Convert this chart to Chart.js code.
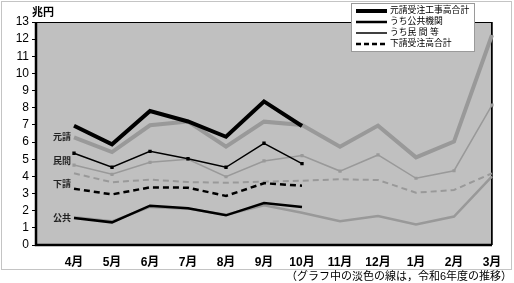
<!DOCTYPE html>
<html>
<head>
<meta charset="utf-8">
<script src="https://cdn.jsdelivr.net/npm/chart.js@4"></script>
<style>
  body { margin: 0; background: #fff; }
  canvas { display: block; }
</style>
</head>
<body>
<canvas id="chart" width="514" height="283"></canvas>
<script>
const months = ["4月", "5月", "6月", "7月", "8月", "9月", "10月", "11月", "12月", "1月", "2月", "3月"];

// 令和7年度 (黒線, 10月まで)
const genCur = [6.95, 5.87, 7.81, 7.2, 6.31, 8.37, 6.94];
const pubCur = [1.57, 1.32, 2.29, 2.14, 1.73, 2.45, 2.22];
const priCur = [5.35, 4.53, 5.46, 5.03, 4.53, 5.93, 4.74];
const subCur = [3.28, 2.95, 3.36, 3.34, 2.86, 3.6, 3.46];

// 令和6年度 (淡色の線)
const genPrev = [6.28, 5.42, 6.98, 7.2, 5.73, 7.19, 7.0, 5.73, 6.96, 5.11, 6.03, 12.24];
const pubPrev = [1.62, 1.38, 2.22, 2.12, 1.76, 2.31, 1.88, 1.38, 1.69, 1.2, 1.66, 4.0];
const priPrev = [4.66, 4.12, 4.82, 5.0, 3.98, 4.9, 5.21, 4.31, 5.25, 3.89, 4.33, 8.16];
const subPrev = [4.18, 3.66, 3.81, 3.67, 3.63, 3.69, 3.75, 3.83, 3.79, 3.05, 3.21, 4.18];

const legendNames = ["元請受注工事高合計", "うち公共機関", "うち民 間 等", "下請受注高合計"];
const sideNames = ["元請", "民間", "下請", "公共"];
const sideLevels = [6.25, 4.85, 3.55, 1.55];
const note = "（グラフ中の淡色の線は，令和6年度の推移）";

const GRAY = "#999999";
const pad = arr => [null].concat(arr);

const styles = [
  { width: 4, dash: [] },
  { width: 2.5, dash: [] },
  { width: 1.5, dash: [] },
  { width: 2.5, dash: [6, 4] }
];

function line(data, color, st, pr) {
  return {
    data: pad(data),
    borderColor: color,
    backgroundColor: color,
    borderWidth: st.width,
    borderDash: st.dash,
    pointRadius: pr || 0,
    pointStyle: "rect",
    tension: 0,
    spanGaps: false
  };
}

const jpFont = "'Liberation Sans', 'Noto Sans CJK JP', sans-serif";

const decor = {
  id: "decor",
  beforeDraw(c) {
    const ctx = c.ctx, a = c.chartArea;
    ctx.save();
    ctx.fillStyle = "#fff";
    ctx.fillRect(0, 0, c.width, c.height);
    ctx.strokeStyle = "#c4c4c4";
    ctx.lineWidth = 1;
    ctx.strokeRect(1.5, 1.5, 510, 268);
    ctx.fillStyle = "#c0c0c0";
    ctx.fillRect(a.left, a.top, a.right - a.left, a.bottom - a.top);
    ctx.restore();
  },
  beforeDatasetsDraw(c) {
    const ctx = c.ctx, a = c.chartArea;
    ctx.save();
    ctx.strokeStyle = "#000";
    ctx.lineWidth = 1;
    ctx.strokeRect(a.left + 0.5, a.top + 0.5, a.right - a.left - 1, a.bottom - a.top - 1);
    ctx.lineWidth = 2.5;
    ctx.beginPath();
    ctx.moveTo(a.left, a.top);
    ctx.lineTo(a.left, a.bottom);
    ctx.lineTo(a.right, a.bottom);
    ctx.stroke();
    ctx.lineWidth = 1.5;
    ctx.beginPath();
    ctx.moveTo(a.right, a.top);
    ctx.lineTo(a.right, a.bottom);
    ctx.stroke();
    ctx.restore();
  },
  afterDraw(c) {
    const ctx = c.ctx;
    const x = c.scales.x, y = c.scales.y;
    ctx.save();
    // unit
    ctx.fillStyle = "#000";
    ctx.font = "bold 11px " + jpFont;
    ctx.textBaseline = "middle";
    ctx.textAlign = "left";
    ctx.fillText("兆円", 32, 13);

    // side labels next to the first point
    const x0 = x.getPixelForValue(1) - 3;
    ctx.font = "bold 9px " + jpFont;
    ctx.textAlign = "right";
    ctx.fillStyle = "#222";
    sideNames.forEach((t, i) => {
      ctx.fillText(t, x0, y.getPixelForValue(sideLevels[i]));
    });

    // legend box
    ctx.fillStyle = "#fff";
    ctx.fillRect(351, 3, 123, 48);
    ctx.strokeStyle = "#9a9a9a";
    ctx.lineWidth = 1;
    ctx.strokeRect(351.5, 3.5, 123, 48);
    const rows = [11, 22, 33, 44];
    legendNames.forEach((t, i) => {
      const st = styles[i];
      ctx.strokeStyle = "#000";
      ctx.lineWidth = st.width;
      ctx.setLineDash(st.dash.length ? [5, 3] : []);
      ctx.beginPath();
      ctx.moveTo(356, rows[i]);
      ctx.lineTo(387, rows[i]);
      ctx.stroke();
      ctx.setLineDash([]);
      ctx.fillStyle = "#000";
      ctx.font = "8.8px " + jpFont;
      ctx.textAlign = "left";
      ctx.fillText(t, 390, rows[i]);
    });

    // note
    ctx.font = "11px " + jpFont;
    ctx.textAlign = "right";
    ctx.fillStyle = "#000";
    ctx.fillText(note, 512, 277);
    ctx.restore();
  }
};

new Chart(document.getElementById("chart"), {
  type: "line",
  data: {
    labels: [""].concat(months),
    datasets: [
      line(genCur, "#000", styles[0], 0),
      line(pubCur, "#000", styles[1], 0),
      line(priCur, "#000", styles[2], 1.3),
      line(subCur, "#000", styles[3], 0),
      line(genPrev, GRAY, styles[0], 0),
      line(pubPrev, GRAY, styles[1], 0),
      line(priPrev, GRAY, styles[2], 1.2),
      line(subPrev, GRAY, { width: 2, dash: [6, 4] }, 0)
    ]
  },
  options: {
    responsive: false,
    animation: false,
    devicePixelRatio: 1,
    layout: { padding: { top: 22, right: 22, left: 0, bottom: 0 } },
    plugins: { legend: { display: false }, tooltip: { enabled: false } },
    scales: {
      x: {
        offset: false,
        grid: { display: false, drawTicks: false },
        border: { display: false },
        ticks: {
          autoSkip: false,
          maxRotation: 0,
          padding: 10,
          color: "#000",
          font: { family: jpFont, size: 12, weight: "bold" }
        },
        afterFit: s => { s.height = 38; }
      },
      y: {
        min: 0,
        max: 13,
        grid: { drawOnChartArea: false, color: "#000", tickLength: 4 },
        border: { display: false },
        ticks: {
          stepSize: 1,
          autoSkip: false,
          padding: 3,
          color: "#000",
          font: { family: jpFont, size: 12 }
        },
        afterFit: s => { s.width = 36; }
      }
    }
  },
  plugins: [decor]
});
</script>
</body>
</html>
